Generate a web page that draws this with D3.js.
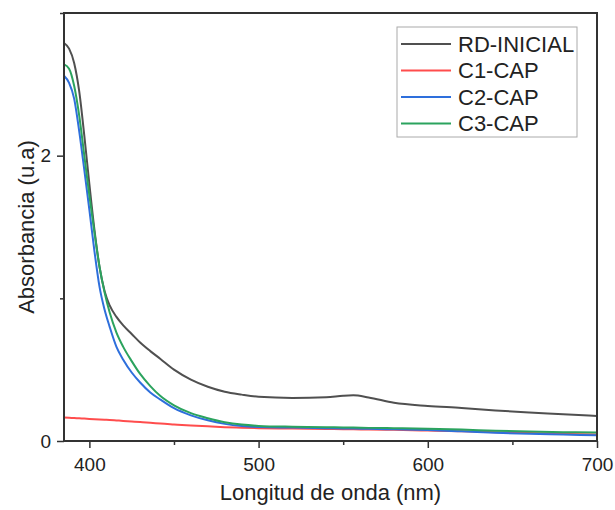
<!DOCTYPE html>
<html>
<head>
<meta charset="utf-8">
<script src="https://cdn.jsdelivr.net/npm/d3@7"></script>
<style>
    body { margin: 0; background: #fff; }
    svg text { font-family: "Liberation Sans", Arial, sans-serif; fill: #222; }
</style>
</head>
<body>
<svg id="drawing_region"></svg>
<script>
// wavelength grid (nm)
var wavelength = [385, 388, 391, 394, 397, 400, 403, 406, 409, 412, 416, 420, 425, 430, 436, 442, 450,
    460, 470, 480, 490, 500, 520, 540, 550, 556, 565, 580, 600, 620, 640, 660, 680, 700];

var rdInicial = [2.79, 2.75, 2.65, 2.45, 2.14, 1.80, 1.48, 1.22, 1.05, 0.95, 0.87, 0.81, 0.75, 0.69, 0.63, 0.575, 0.50,
    0.43, 0.38, 0.345, 0.325, 0.31, 0.302, 0.306, 0.317, 0.32, 0.305, 0.268, 0.246, 0.232, 0.214, 0.200, 0.188, 0.175];

var c1Cap = [0.165, 0.163, 0.161, 0.159, 0.157, 0.155, 0.153, 0.151, 0.149, 0.147, 0.144, 0.141, 0.137, 0.133, 0.128, 0.122, 0.116,
    0.109, 0.103, 0.097, 0.093, 0.090, 0.087, 0.084, 0.083, 0.082, 0.080, 0.078, 0.073, 0.068, 0.062, 0.056, 0.050, 0.045];

var c2Cap = [2.56, 2.51, 2.40, 2.17, 1.90, 1.62, 1.33, 1.08, 0.92, 0.80, 0.66, 0.57, 0.48, 0.41, 0.34, 0.29, 0.23,
    0.18, 0.145, 0.12, 0.105, 0.098, 0.094, 0.090, 0.088, 0.087, 0.085, 0.082, 0.077, 0.068, 0.058, 0.050, 0.045, 0.040];

var c3Cap = [2.64, 2.61, 2.49, 2.28, 2.00, 1.72, 1.46, 1.22, 1.04, 0.90, 0.76, 0.66, 0.56, 0.47, 0.385, 0.315, 0.25,
    0.195, 0.16, 0.132, 0.115, 0.106, 0.100, 0.097, 0.095, 0.094, 0.092, 0.090, 0.086, 0.080, 0.072, 0.066, 0.062, 0.059];

var seriesNames = ['RD-INICIAL', 'C1-CAP', 'C2-CAP', 'C3-CAP'];
var seriesValues = [rdInicial, c1Cap, c2Cap, c3Cap];
var seriesColors = ['#505050', '#ff4d4d', '#2e6fdc', '#2ba35e'];

var xMajorTicks = [400, 500, 600, 700];
var xMinorTicks = [450, 550, 650];
var yMajorTicks = [0, 2];
var yMinorTicks = [1, 3];

var config = {
    width: 615,
    height: 510,
    margin: {top: 13, right: 18, bottom: 69, left: 64}
};

var svg = d3.select('#drawing_region')
    .attr('width', config.width)
    .attr('height', config.height);

var inner_width = config.width - config.margin.left - config.margin.right;
var inner_height = config.height - config.margin.top - config.margin.bottom;

var chart = svg.append('g')
    .attr('transform', `translate(${config.margin.left}, ${config.margin.top})`);

var xscale = d3.scaleLinear().domain([385, 700]).range([0, inner_width]);
var yscale = d3.scaleLinear().domain([0, 3]).range([inner_height, 0]);

// curves
var line = d3.line()
    .x((d, i) => xscale(wavelength[i]))
    .y(d => yscale(d))
    .curve(d3.curveMonotoneX);

seriesValues.forEach((vals, k) => {
    chart.append('path')
        .attr('d', line(vals))
        .attr('fill', 'none')
        .attr('stroke', seriesColors[k])
        .attr('stroke-width', 2);
});

// axes
var xaxis = d3.axisBottom(xscale).tickValues(xMajorTicks).tickSize(7).tickPadding(10).tickFormat(d3.format('d')).tickSizeOuter(0);
var xaxisMinor = d3.axisBottom(xscale).tickValues(xMinorTicks).tickSize(4).tickFormat('').tickSizeOuter(0);
var yaxis = d3.axisLeft(yscale).tickValues(yMajorTicks).tickSize(7).tickPadding(6).tickFormat(d3.format('d')).tickSizeOuter(0);
var yaxisMinor = d3.axisLeft(yscale).tickValues(yMinorTicks).tickSize(4).tickFormat('').tickSizeOuter(0);

[
    chart.append('g').attr('transform', `translate(0, ${inner_height})`).call(xaxis),
    chart.append('g').attr('transform', `translate(0, ${inner_height})`).call(xaxisMinor),
    chart.append('g').call(yaxis),
    chart.append('g').call(yaxisMinor)
].forEach(g => {
    g.select('.domain').remove();
    g.selectAll('line').attr('stroke', '#333').attr('stroke-width', 1.5);
    g.selectAll('text').style('font-size', '19px').attr('fill', '#222');
});

// frame
chart.append('rect')
    .attr('x', 0).attr('y', 0)
    .attr('width', inner_width).attr('height', inner_height)
    .attr('fill', 'none')
    .attr('stroke', '#333')
    .attr('stroke-width', 2);

// axis titles
svg.append('text')
    .attr('x', config.margin.left + inner_width / 2)
    .attr('y', 500)
    .attr('text-anchor', 'middle')
    .style('font-size', '22px')
    .text('Longitud de onda (nm)');

svg.append('text')
    .attr('transform', `translate(26, ${config.margin.top + inner_height / 2}) rotate(-90)`)
    .attr('text-anchor', 'middle')
    .attr('dominant-baseline', 'central')
    .style('font-size', '22px')
    .text('Absorbancia (u.a)');

// legend
var legend = svg.append('g').attr('transform', 'translate(397, 27)');
legend.append('rect')
    .attr('width', 180).attr('height', 110)
    .attr('fill', '#fff')
    .attr('stroke', '#aaa')
    .attr('stroke-width', 1);

seriesNames.forEach((name, k) => {
    var cy = 17 + k * 26.5;
    legend.append('line')
        .attr('x1', 4).attr('x2', 54)
        .attr('y1', cy).attr('y2', cy)
        .attr('stroke', seriesColors[k])
        .attr('stroke-width', 2);
    legend.append('text')
        .attr('x', 61).attr('y', cy)
        .attr('dominant-baseline', 'central')
        .style('font-size', '22px')
        .text(name);
});
</script>
</body>
</html>
